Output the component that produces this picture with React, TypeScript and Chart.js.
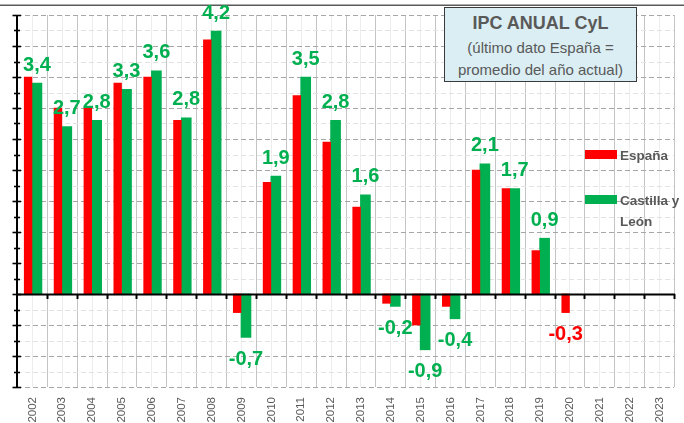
import React, { useEffect, useRef } from "react";
import { Chart, registerables } from "chart.js";

Chart.register(...registerables);

// ---------- data ----------
const years = [
  "2002", "2003", "2004", "2005", "2006", "2007", "2008", "2009", "2010", "2011", "2012",
  "2013", "2014", "2015", "2016", "2017", "2018", "2019", "2020", "2021", "2022", "2023",
];
const espana: (number | null)[] = [
  3.5, 3.0, 3.0, 3.4, 3.5, 2.8, 4.1, -0.3, 1.8, 3.2, 2.45,
  1.4, -0.15, -0.5, -0.2, 2.0, 1.7, 0.7, -0.3, null, null, null,
];
const castillaLeon: (number | null)[] = [
  3.4, 2.7, 2.8, 3.3, 3.6, 2.84, 4.24, -0.7, 1.9, 3.5, 2.8,
  1.6, -0.2, -0.9, -0.4, 2.1, 1.7, 0.9, null, null, null, null,
];
const seriesNames = ["España", "Castilla y León"];
const titleLines = ["IPC ANUAL CyL", "(último dato España =", "promedio del año actual)"];
const yMin = -1.5;
const yMax = 4.5;
const majorStep = 0.5;
const minorStep = 0.25;

// ---------- styles ----------
const RED = "#FF0000";
const GREEN = "#00B050";
const TEXT = "#595959";
const FONT = "'Liberation Sans', Arial, sans-serif";

const fmt = (v: number) => v.toFixed(1).replace(".", ",");

const hline = (ctx: CanvasRenderingContext2D, x1: number, x2: number, y: number) => {
  ctx.beginPath();
  ctx.moveTo(x1, y);
  ctx.lineTo(x2, y);
  ctx.stroke();
};
const vline = (ctx: CanvasRenderingContext2D, x: number, y1: number, y2: number) => {
  ctx.beginPath();
  ctx.moveTo(x, y1);
  ctx.lineTo(x, y2);
  ctx.stroke();
};

const decorPlugin = {
  id: "decor",
  beforeDatasetsDraw(chart: any) {
    const { ctx, chartArea: a, scales } = chart;
    const x = scales.x;
    const y = scales.y;
    ctx.save();
    // outer frame top line
    ctx.strokeStyle = "#5A5A5A";
    ctx.lineWidth = 1.5;
    hline(ctx, 0, chart.width, 5.25);

    // vertical grid: centers (light) and boundaries (medium)
    const n = years.length;
    const centers = years.map((_, i) => x.getPixelForValue(i));
    const half = (centers[1] - centers[0]) / 2;
    ctx.lineWidth = 1;
    ctx.strokeStyle = "#EDEDED";
    centers.forEach((c) => vline(ctx, Math.round(c) + 0.5, a.top, a.bottom));
    ctx.strokeStyle = "#C4C4C4";
    for (let i = 0; i <= n; i++) {
      const b = i < n ? centers[i] - half : centers[n - 1] + half;
      vline(ctx, Math.round(b) + 0.5, a.top, a.bottom);
    }

    // horizontal dashed grid
    const steps = Math.round((yMax - yMin) / minorStep);
    for (let k = 0; k <= steps; k++) {
      const v = yMin + k * minorStep;
      if (Math.abs(v) < 1e-9) continue;
      const isMajor = Math.abs(v / majorStep - Math.round(v / majorStep)) < 1e-6;
      ctx.strokeStyle = isMajor ? "#A6A6A6" : "#E2E2E2";
      ctx.lineWidth = 1;
      ctx.setLineDash([5, 3]);
      hline(ctx, a.left, a.right, Math.round(y.getPixelForValue(v)) + 0.5);
    }
    ctx.setLineDash([]);
    ctx.restore();
  },
  afterDatasetsDraw(chart: any) {
    const { ctx, chartArea: a, scales } = chart;
    const x = scales.x;
    const y = scales.y;
    ctx.save();
    const n = years.length;
    const centers = years.map((_, i) => x.getPixelForValue(i));
    const half = (centers[1] - centers[0]) / 2;
    const y0 = y.getPixelForValue(0);

    // zero axis line and ticks
    ctx.strokeStyle = "#000";
    ctx.lineWidth = 2;
    hline(ctx, a.left, a.right + 1, y0 + 0.5);
    for (let i = 1; i <= n; i++) {
      const b = i < n ? centers[i] - half : centers[n - 1] + half;
      vline(ctx, Math.round(b) + 0.5, y0, y0 + 5);
    }

    // y axis with crossing ticks
    vline(ctx, a.left, a.top, a.bottom + 1);
    const steps = Math.round((yMax - yMin) / minorStep);
    for (let k = 0; k <= steps; k++) {
      const v = yMin + k * minorStep;
      const isMajor = Math.abs(v / majorStep - Math.round(v / majorStep)) < 1e-6;
      const py = Math.round(y.getPixelForValue(v)) + 0.5;
      ctx.lineWidth = 1.6;
      if (isMajor) hline(ctx, a.left - 4.5, a.left + 4, py);
      else hline(ctx, a.left - 3, a.left + 3, py);
    }

    // x category labels (rotated, at bottom of plot)
    ctx.fillStyle = TEXT;
    ctx.font = `11.5px ${FONT}`;
    ctx.textAlign = "right";
    ctx.textBaseline = "middle";
    centers.forEach((c, i) => {
      ctx.save();
      ctx.translate(c + 0.5, a.bottom + 10);
      ctx.rotate(-Math.PI / 2);
      ctx.fillText(years[i], 0, 0);
      ctx.restore();
    });

    // value labels: Castilla y León value, falling back to España
    const metaR = chart.getDatasetMeta(0);
    const metaG = chart.getDatasetMeta(1);
    ctx.font = `bold 20px ${FONT}`;
    ctx.textAlign = "center";
    ctx.textBaseline = "middle";
    years.forEach((_, i) => {
      let v: number | null = castillaLeon[i];
      let el = metaG.data[i];
      let color = GREEN;
      if (v == null) {
        v = espana[i];
        el = metaR.data[i];
        color = RED;
      }
      if (v == null || !el) return;
      const ly = v >= 0 ? el.y - 18 : el.y + 22;
      ctx.fillStyle = color;
      ctx.fillText(fmt(v), el.x, ly);
    });
    ctx.restore();
  },
};

export default function App() {
  const ref = useRef<HTMLCanvasElement | null>(null);

  useEffect(() => {
    if (!ref.current) return;
    const chart = new Chart(ref.current, {
      type: "bar",
      data: {
        labels: years,
        datasets: [
          {
            label: seriesNames[0],
            data: espana,
            backgroundColor: RED,
            borderWidth: 0,
            barThickness: 7.7,
          },
          {
            label: seriesNames[1],
            data: castillaLeon,
            backgroundColor: GREEN,
            borderWidth: 0,
            barThickness: 10,
          },
        ],
      },
      options: {
        responsive: false,
        animation: false,
        devicePixelRatio: 1,
        layout: { padding: { left: 17, top: 15, right: 10, bottom: 36 } },
        plugins: { legend: { display: false }, tooltip: { enabled: false } },
        scales: {
          x: { display: false, grid: { display: false } },
          y: { display: false, min: yMin, max: yMax, grid: { display: false } },
        },
      },
      plugins: [decorPlugin],
    } as any);
    return () => chart.destroy();
  }, []);

  const lineCenters = [14.5, 39.5, 61.5];
  return (
    <div
      style={{
        position: "fixed",
        left: 0,
        top: 0,
        width: 684,
        height: 423,
        background: "#fff",
        overflow: "hidden",
        fontFamily: FONT,
      }}
    >
      <canvas
        ref={ref}
        width={684}
        height={423}
        style={{ position: "absolute", left: 0, top: 0, width: 684, height: 423 }}
      />
      <div
        style={{
          position: "absolute",
          left: 444,
          top: 7,
          width: 193,
          height: 75,
          boxSizing: "border-box",
          border: "1.5px solid #3A3A3A",
          background: "#DAEEF3",
          color: TEXT,
        }}
      >
        {titleLines.map((t, i) => (
          <div
            key={i}
            style={{
              position: "absolute",
              left: 0,
              right: 0,
              top: lineCenters[i] - 11,
              height: 22,
              lineHeight: "22px",
              textAlign: "center",
              whiteSpace: "nowrap",
              fontSize: i === 0 ? 18 : 15,
              fontWeight: i === 0 ? "bold" : "normal",
            }}
          >
            {t}
          </div>
        ))}
      </div>
      {seriesNames.map((name, i) => (
        <React.Fragment key={name}>
          <div
            style={{
              position: "absolute",
              left: 585,
              top: i === 0 ? 150 : 195,
              width: 32,
              height: 9,
              background: i === 0 ? RED : GREEN,
            }}
          />
          <div
            style={{
              position: "absolute",
              left: 620,
              top: (i === 0 ? 155 : 200) - 10.5,
              width: 66,
              lineHeight: "21px",
              fontSize: 13.5,
              fontWeight: "bold",
              color: TEXT,
            }}
          >
            {name}
          </div>
        </React.Fragment>
      ))}
    </div>
  );
}
